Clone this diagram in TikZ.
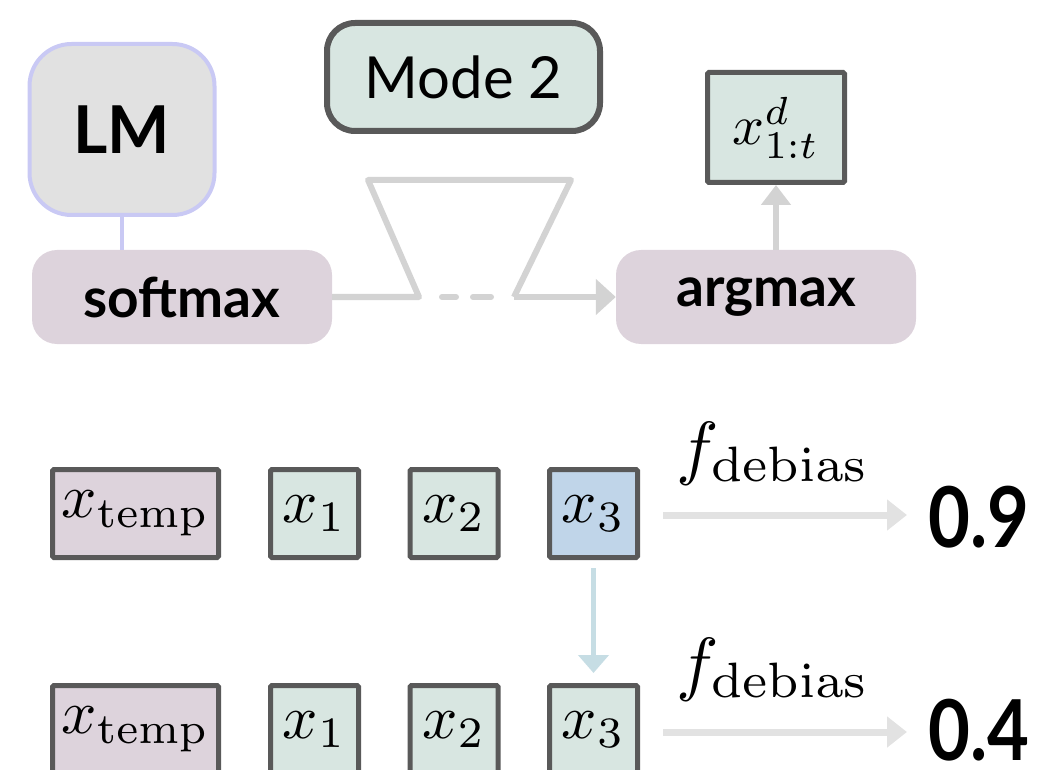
\documentclass[tikz,border=0pt]{standalone}
\usepackage{graphicx}
\usepackage[no-math]{fontspec}
\setmainfont{Lato}
\usetikzlibrary{arrows.meta}
\definecolor{lmfill}{HTML}{E1E1E1}
\definecolor{lmborder}{HTML}{C9C9F4}
\definecolor{pinkbox}{HTML}{DDD3DC}
\definecolor{greenbox}{HTML}{D8E6E1}
\definecolor{bluebox}{HTML}{C0D5E9}
\definecolor{edgegray}{HTML}{595959}
\definecolor{flow}{HTML}{D3D3D3}
\definecolor{lightflow}{HTML}{E2E2E2}
\definecolor{blueflow}{HTML}{C6DDE4}
\newcommand\scmath[2]{\scalebox{#1}{$#2$}}
\newcommand\narrownum[1]{\scalebox{0.86}[1]{#1}}
\begin{document}
\begin{tikzpicture}[x=1pt,y=-1pt,
  tok/.style={draw=edgegray, line width=5pt, inner sep=0pt, rounded corners=1.5pt,
    minimum height=88pt},
  opbox/.style={fill=pinkbox, rounded corners=25pt, inner sep=0pt,
    minimum width=300pt, minimum height=94pt, font=\fontsize{55}{60}\selectfont\bfseries},
  flowline/.style={draw=flow, line width=6pt, line join=round},
  rowarrow/.style={draw=lightflow, line width=7pt, -{Triangle[length=20pt,width=30pt]}},
  bignum/.style={anchor=base, inner sep=0pt, font=\fontsize{84}{90}\selectfont\bfseries},
  flabel/.style={anchor=base, inner sep=0pt}
]
\path[use as bounding box, clip] (0,0) rectangle (1042,770);

% top part
\node[draw=lmborder, line width=4pt, fill=lmfill, rounded corners=42pt, inner sep=0pt,
  minimum width=185pt, minimum height=171pt, font=\fontsize{66}{70}\selectfont\bfseries]
  (LM) at (122,129.5) {LM};
\node[opbox] (soft) at (182,297) {softmax};
\node[opbox] (arg) at (766,297) {argmax};
\node[draw=edgegray, line width=6pt, fill=greenbox, rounded corners=28pt, inner sep=0pt,
  minimum width=273pt, minimum height=108pt, font=\fontsize{58}{60}\selectfont]
  (mode) at (463.5,77) {Mode 2};
\node[draw=edgegray, line width=5pt, fill=greenbox, rounded corners=1.5pt, inner sep=0pt,
  minimum width=137pt, minimum height=110pt]
  (xd) at (776,127.5) {\scmath{5.6}{x^{d}_{1:t}}};

\draw[draw=lmborder, line width=4pt] (LM.south) -- (LM.south |- soft.north);

\coordinate (tl) at (368,180);
\coordinate (tr) at (571,180);
\coordinate (bl) at (419,297);
\coordinate (br) at (514,297);
\coordinate (d1a) at (442,297);
\coordinate (d1b) at (456,297);
\coordinate (d2a) at (473,297);
\coordinate (d2b) at (491,297);
\draw[flowline] (soft.east) -- (bl) -- (tl) -- (tr) -- (br);
\draw[flowline, -{Triangle[length=20pt,width=35pt]}] (br) -- (arg.west);
\draw[flowline, line cap=round] (d1a) -- (d1b) (d2a) -- (d2b);
\draw[flowline, -{Triangle[length=20pt,width=29pt]}] (xd.south |- arg.north) -- (xd.south);

% row 1
\node[tok, fill=pinkbox, minimum width=166pt] (t1) at (135.5,513.5) {\scmath{6.2}{x_{\mathrm{temp}}}};
\node[tok, fill=greenbox, minimum width=88pt] (a1) at (314.5,513.5) {\scmath{6.2}{x_1}};
\node[tok, fill=greenbox, minimum width=88pt] (b1) at (454,513.5) {\scmath{6.2}{x_2}};
\node[tok, fill=bluebox, minimum width=88pt] (c1) at (593.5,513.5) {\scmath{6.2}{x_3}};
\coordinate (e1) at (907,515);
\draw[rowarrow] ([xshift=23pt,yshift=-1.5pt]c1.east) -- (e1);
\node[flabel] (f1) at (773,471) {\scmath{7.1}{f_{\mathrm{debias}}}};
\node[bignum] (n1) at (979,547) {\narrownum{0.9}};

% row 2
\node[tok, fill=pinkbox, minimum width=166pt] (t2) at (135.5,729.5) {\scmath{6.2}{x_{\mathrm{temp}}}};
\node[tok, fill=greenbox, minimum width=88pt] (a2) at (314.5,729.5) {\scmath{6.2}{x_1}};
\node[tok, fill=greenbox, minimum width=88pt] (b2) at (454,729.5) {\scmath{6.2}{x_2}};
\node[tok, fill=greenbox, minimum width=88pt] (c2) at (593.5,729.5) {\scmath{6.2}{x_3}};
\coordinate (e2) at (907,732);
\draw[rowarrow] ([xshift=23pt,yshift=-2.5pt]c2.east) -- (e2);
\node[flabel] (f2) at (773,687) {\scmath{7.1}{f_{\mathrm{debias}}}};
\node[bignum] (n2) at (979,760) {\narrownum{0.4}};

\draw[draw=blueflow, line width=5pt, -{Triangle[length=18pt,width=30pt]}]
  ([yshift=-8pt]c1.south) -- ([yshift=10pt]c2.north);
\end{tikzpicture}
\end{document}
